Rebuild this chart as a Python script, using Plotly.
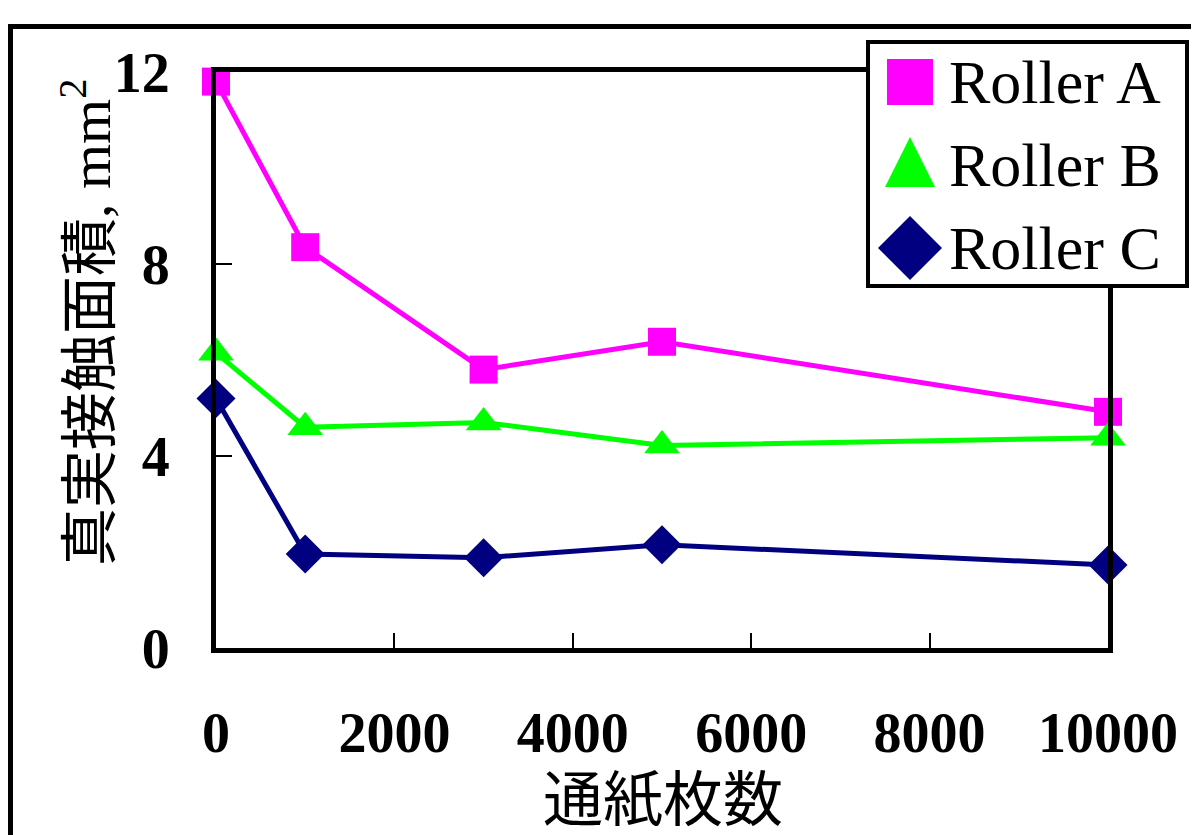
import plotly.graph_objects as go

# ---- data ----
sheets = [0, 1000, 3000, 5000, 10000]
roller_a = [11.8, 8.35, 5.8, 6.38, 4.92]
roller_b = [6.15, 4.6, 4.7, 4.22, 4.38]
roller_c = [5.2, 1.96, 1.88, 2.15, 1.73]
series_names = ["Roller A", "Roller B", "Roller C"]
x_ticks = [0, 2000, 4000, 6000, 8000, 10000]
y_ticks = [0, 4, 8, 12]
x_title = "通紙枚数"
y_title = "真実接触面積, mm<sup>2</sup>"

W, H = 1199, 835
OFF = 8  # page body margin
def px(x):
    return (x - OFF) / W
def py(y):
    return 1 - (y - OFF) / H

colors = ["#FF00FF", "#00FF00", "#000080"]
symbols = ["square", "triangle-up", "diamond"]
sizes = [28, 31, 30]

fig = go.Figure()
for name, vals, c, s, sz in zip(series_names, [roller_a, roller_b, roller_c], colors, symbols, sizes):
    fig.add_trace(go.Scatter(
        x=sheets, y=vals, name=name, mode="lines+markers",
        line=dict(color=c, width=5),
        marker=dict(symbol=s, size=sz, color=c, line=dict(width=0)),
        cliponaxis=False, showlegend=False,
    ))

serif = "Liberation Serif, Times New Roman, serif"
cjk = "Liberation Serif, Noto Sans CJK JP, sans-serif"

fig.update_layout(
    width=W, height=H,
    margin=dict(l=0, r=0, t=0, b=0, autoexpand=False),
    paper_bgcolor="white", plot_bgcolor="white",
    showlegend=False,
    xaxis=dict(
        domain=[px(216), px(1108)], range=[0, 10000], automargin=False,
        tickvals=x_ticks, ticktext=[str(v) for v in x_ticks],
        ticks="inside", ticklen=15, tickwidth=1.5, tickcolor="black",
        showline=True, linewidth=5, linecolor="black", mirror=True,
        showgrid=False, zeroline=False,
        tickfont=dict(family=serif, size=56, color="black", weight="bold"),
        ticklabelstandoff=32,
    ),
    yaxis=dict(
        domain=[py(648), py(72)], range=[0, 12], automargin=False,
        tickvals=y_ticks, ticktext=[str(v) for v in y_ticks],
        ticks="inside", ticklen=16, tickwidth=1.5, tickcolor="black",
        showline=True, linewidth=5, linecolor="black", mirror=True,
        showgrid=False, zeroline=False,
        tickfont=dict(family=serif, size=56, color="black", weight="bold"),
        ticklabelstandoff=30,
    ),
)

shapes = []
# outer frame
shapes.append(dict(type="rect", xref="paper", yref="paper",
                   x0=px(10.5), x1=px(1400), y0=py(26.5), y1=py(1000),
                   line=dict(color="black", width=5), fillcolor="rgba(0,0,0,0)", layer="above"))
# legend box
shapes.append(dict(type="rect", xref="paper", yref="paper",
                   x0=px(868), x1=px(1187), y0=py(42), y1=py(286),
                   line=dict(color="black", width=4), fillcolor="white", layer="above"))
# legend symbols
ly = [82, 165, 248]
lx = 910
h = 23
sq = f"M {px(lx-h)},{py(ly[0]-h)} L {px(lx+h)},{py(ly[0]-h)} L {px(lx+h)},{py(ly[0]+h)} L {px(lx-h)},{py(ly[0]+h)} Z"
tri = f"M {px(lx)},{py(ly[1]-28)} L {px(lx+25)},{py(ly[1]+22)} L {px(lx-25)},{py(ly[1]+22)} Z"
dia = f"M {px(lx)},{py(ly[2]-32)} L {px(lx+32)},{py(ly[2])} L {px(lx)},{py(ly[2]+32)} L {px(lx-32)},{py(ly[2])} Z"
for path, c in zip([sq, tri, dia], colors):
    shapes.append(dict(type="path", xref="paper", yref="paper", path=path,
                       fillcolor=c, line=dict(width=0), layer="above"))
fig.update_layout(shapes=shapes)

annotations = []
for name, yy in zip(series_names, ly):
    annotations.append(dict(text=name, xref="paper", yref="paper", x=px(947), y=py(yy),
                            xanchor="left", yanchor="middle", showarrow=False,
                            font=dict(family=serif, size=62, color="black")))
annotations.append(dict(text=x_title, xref="paper", yref="paper", x=px(663), y=py(801),
                        xanchor="center", yanchor="middle", showarrow=False,
                        font=dict(family=cjk, size=60, color="black")))
annotations.append(dict(text=y_title, xref="paper", yref="paper", x=px(87), y=py(322),
                        xanchor="center", yanchor="middle", showarrow=False, textangle=-90,
                        font=dict(family=cjk, size=58, color="black")))
fig.update_layout(annotations=annotations)

fig.write_html("out.html")
